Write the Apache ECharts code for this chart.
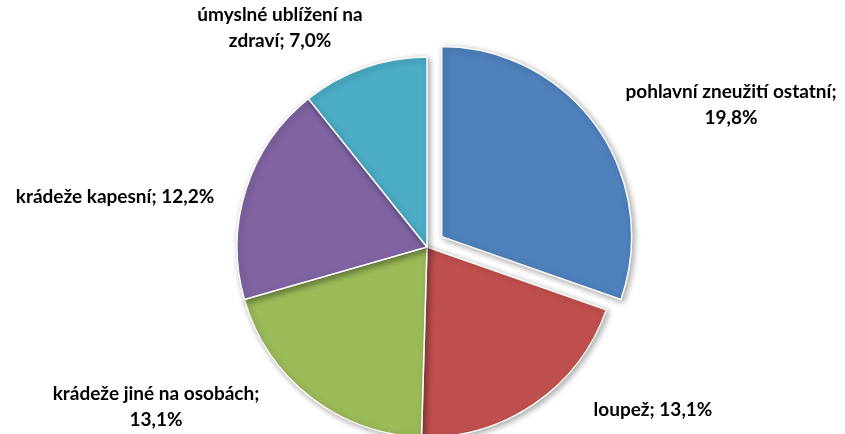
<!DOCTYPE html>
<html>
<head>
<meta charset="utf-8">
<script src="https://cdn.jsdelivr.net/npm/echarts@6/dist/echarts.min.js"></script>
<style>
  html, body { margin: 0; padding: 0; background: #fff; }
  #main { width: 845px; height: 434px; }
</style>
</head>
<body>
<div id="main"></div>
<script>
var categories = ['pohlavní zneužití ostatní', 'loupež', 'krádeže jiné na osobách', 'krádeže kapesní', 'úmyslné ublížení na zdraví'];
var values = [19.8, 13.1, 13.1, 12.2, 7.0];
var colors = ['#4F81BD', '#C0504D', '#9BBB59', '#8064A2', '#4BACC6'];

// where each label wraps (after the name, inside the name, or not at all)
function labelText(i) {
    var pct = values[i].toFixed(1).replace('.', ',') + '%';
    var name = categories[i];
    if (i === 0 || i === 2) return name + ';\n' + pct;
    if (i === 4) return 'úmyslné ublížení na\nzdraví; ' + pct;
    return name + '; ' + pct;
}

var center = [427, 247];
var radius = 190;
var pullOut = 18;

// label centres, as placed in the original chart
var labelCenters = [[731, 105], [653, 410], [156, 407], [115, 197], [280, 28]];

var myChart = echarts.init(document.getElementById('main'));

// the first slice is pulled out: draw it in its own series, shifted along its mid angle
var total = values.reduce(function (a, b) { return a + b; }, 0);
var mid = (values[0] / total) * Math.PI; // half of its sweep, clockwise from top
var shifted = [center[0] + pullOut * Math.sin(mid), center[1] - pullOut * Math.cos(mid)];

function buildData(showFirst) {
    var out = [];
    for (var i = 0; i < values.length; i++) {
        var visible = (i === 0) === showFirst;
        out.push({
            name: categories[i],
            value: values[i],
            itemStyle: visible ? { color: colors[i] } : { color: 'transparent', borderWidth: 0, shadowBlur: 0, shadowColor: 'transparent' },
            label: { show: visible }
        });
    }
    return out;
}

var baseSeries = {
    type: 'pie',
    radius: radius,
    startAngle: 90,
    clockwise: true,
    selectedMode: false,
    itemStyle: {
        borderColor: '#fff',
        borderWidth: 1.5,
        shadowBlur: 6,
        shadowColor: 'rgba(0,0,0,0.35)',
        shadowOffsetX: 2,
        shadowOffsetY: 2
    },
    emphasis: { disabled: true },
    label: {
        show: true,
        position: 'outside',
        overflow: 'none',
        formatter: function (p) { return labelText(p.dataIndex); },
        fontFamily: 'Lato',
        fontWeight: 'bold',
        fontSize: 19,
        lineHeight: 26,
        color: '#000'
    },
    labelLine: { show: false },
    labelLayout: function (p) {
        var c = labelCenters[p.dataIndex];
        return { x: c[0], y: c[1], align: 'center', verticalAlign: 'middle' };
    }
};

var option = {
    animation: false,
    series: [
        Object.assign({}, baseSeries, { center: center, data: buildData(false) }),
        Object.assign({}, baseSeries, { center: shifted, data: buildData(true) })
    ]
};
myChart.setOption(option);
</script>
</body>
</html>
